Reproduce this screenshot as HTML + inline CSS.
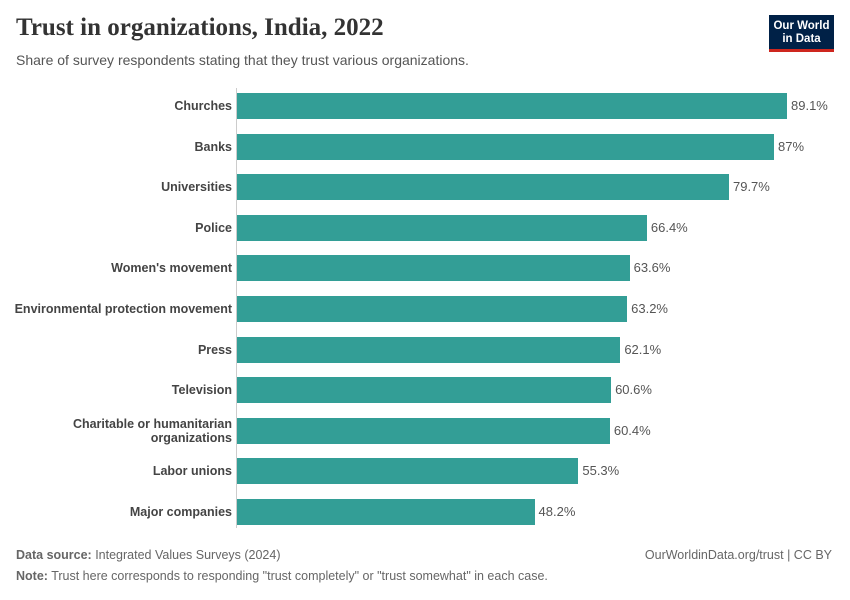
<!DOCTYPE html>
<html><head><meta charset="utf-8"><style>
body{margin:0;width:850px;height:600px;background:#fff;font-family:"Liberation Sans",sans-serif;position:relative;overflow:hidden}
.t{position:absolute;left:16px;top:14px;font-family:"Liberation Serif",serif;font-size:25px;color:#333;font-weight:bold}
.s{position:absolute;left:16px;top:52px;font-size:14px;color:#555}
.logo{position:absolute;left:769px;top:15px;width:65px;height:37px;background:#002147;color:#fff;font-size:11.5px;text-align:center;line-height:13px;padding-top:5px;box-sizing:border-box;border-bottom:3px solid #ce261e;font-weight:bold}
.l{position:absolute;right:618px;font-size:12.5px;font-weight:bold;color:#444;text-align:right;line-height:14px}
.b{position:absolute;left:237px;height:26px;background:#339e96}
.v{position:absolute;font-size:13px;color:#555}
.f{position:absolute;font-size:12.5px;color:#666}
</style></head><body>
<div class="t">Trust in organizations, India, 2022</div>
<div class="s">Share of survey respondents stating that they trust various organizations.</div>
<div class="logo">Our World<br>in Data</div>
<div style="position:absolute;left:236px;top:88px;width:1px;height:440px;background:#ccc"></div>
<div id="c"></div>
<script>
var d=[["Churches",89.1,"89.1%"],["Banks",87,"87%"],["Universities",79.7,"79.7%"],["Police",66.4,"66.4%"],["Women's movement",63.6,"63.6%"],["Environmental protection movement",63.2,"63.2%"],["Press",62.1,"62.1%"],["Television",60.6,"60.6%"],["Charitable or humanitarian<br>organizations",60.4,"60.4%"],["Labor unions",55.3,"55.3%"],["Major companies",48.2,"48.2%"]];
var h="";d.forEach(function(r,i){var y=106+i*40.6;var w=r[1]*6.173;var two=r[0].indexOf("<br>")>0;
h+='<div class="l" style="top:'+(y-(two?14:7))+'px">'+r[0]+'</div><div class="b" style="top:'+(y-13)+'px;width:'+w+'px"></div><div class="v" style="left:'+(241+w)+'px;top:'+(y-8)+'px">'+r[2]+'</div>';});
document.getElementById("c").innerHTML=h;
</script>
<div class="f" style="left:16px;top:548px"><b>Data source:</b> Integrated Values Surveys (2024)</div>
<div class="f" style="right:18px;top:548px">OurWorldinData.org/trust | CC BY</div>
<div class="f" style="left:16px;top:569px"><b>Note:</b> Trust here corresponds to responding "trust completely" or "trust somewhat" in each case.</div>
</body></html>
